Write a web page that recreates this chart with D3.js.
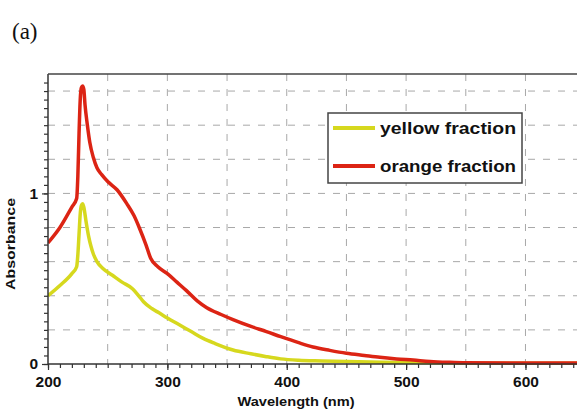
<!DOCTYPE html>
<html>
<head>
<meta charset="utf-8">
<script src="https://cdn.jsdelivr.net/npm/d3@7"></script>
<style>
  body { margin: 0; background: #fff; }
  svg { display: block; }
</style>
</head>
<body>
<div id="chart"></div>
<script>
// wavelengths (nm) and absorbance
var redWl  = [200, 210, 220, 224, 225, 226, 227, 228, 229, 230, 231, 233, 235, 238, 241, 245, 250, 258, 266, 272, 277, 282, 286, 292, 300, 308, 316, 325, 333, 345, 355, 370, 383, 395, 410, 422, 436, 450, 465, 478, 492, 506, 520, 535, 550, 600, 644];
var redAbs = [0.71, 0.80, 0.92, 0.97, 1.1, 1.35, 1.55, 1.62, 1.63, 1.61, 1.52, 1.40, 1.30, 1.21, 1.15, 1.11, 1.07, 1.02, 0.94, 0.87, 0.79, 0.70, 0.62, 0.57, 0.53, 0.48, 0.43, 0.37, 0.33, 0.29, 0.26, 0.22, 0.19, 0.16, 0.125, 0.10, 0.08, 0.063, 0.05, 0.039, 0.03, 0.023, 0.015, 0.01, 0.007, 0.006, 0.006];

var yelWl  = [200, 210, 220, 224, 225, 226, 227, 228, 229, 230, 232, 234, 236, 238, 241, 246, 254, 262, 271, 276, 280, 287, 293, 300, 310, 320, 330, 340, 355, 370, 383, 395, 410, 430, 450, 480, 520, 560, 644];
var yelAbs = [0.40, 0.46, 0.53, 0.57, 0.64, 0.76, 0.88, 0.93, 0.94, 0.92, 0.83, 0.75, 0.69, 0.645, 0.60, 0.56, 0.52, 0.48, 0.44, 0.40, 0.365, 0.325, 0.30, 0.27, 0.23, 0.19, 0.15, 0.12, 0.082, 0.06, 0.043, 0.03, 0.022, 0.018, 0.014, 0.01, 0.007, 0.005, 0.004];

var seriesNames  = ["yellow fraction", "orange fraction"];
var seriesColors = ["#d6d81e", "#dc2414"];

var xTickLabels = [200, 300, 400, 500, 600];
var yTickLabels = [0, 1];

(function() {

    var w = 577, h = 410;
    var pLeft = 48, pTop = 74, pRight = 578, pBottom = 364;

    var svg = d3.select("#chart").append("svg")
        .attr("width", w)
        .attr("height", h);

    var xScale = d3.scaleLinear().domain([200, 644]).range([pLeft, pRight]);
    var yScale = d3.scaleLinear().domain([0, 1.7]).range([pBottom, pTop]);

    // grid
    var grid = svg.append("g");
    grid.selectAll("line.vg")
        .data(d3.range(250, 644, 50))
        .enter().append("line")
        .attr("x1", function(d) { return xScale(d); })
        .attr("x2", function(d) { return xScale(d); })
        .attr("y1", pTop).attr("y2", pBottom)
        .style("stroke", "#a8a8a8")
        .style("stroke-dasharray", "7,8")
        .style("stroke-width", 1);

    grid.selectAll("line.hg")
        .data(d3.range(0.2, 1.65, 0.2))
        .enter().append("line")
        .attr("x1", pLeft).attr("x2", pRight)
        .attr("y1", function(d) { return yScale(d); })
        .attr("y2", function(d) { return yScale(d); })
        .style("stroke", "#a8a8a8")
        .style("stroke-dasharray", "7,8")
        .style("stroke-width", 1);

    // curves
    svg.append("clipPath").attr("id", "clip")
        .append("rect").attr("x", pLeft).attr("y", pTop)
        .attr("width", pRight - pLeft).attr("height", pBottom - pTop + 2);

    var line = d3.line()
        .x(function(d) { return xScale(d[0]); })
        .y(function(d) { return yScale(d[1]); })
        .curve(d3.curveMonotoneX);

    var curves = [d3.zip(yelWl, yelAbs), d3.zip(redWl, redAbs)];

    svg.append("g").attr("clip-path", "url(#clip)")
        .selectAll("path")
        .data(curves)
        .enter().append("path")
        .attr("d", line)
        .style("fill", "none")
        .style("stroke", function(d, i) { return seriesColors[i]; })
        .style("stroke-width", 3.5)
        .style("stroke-linejoin", "round");

    // axes
    var xAxisMinor = d3.axisBottom(xScale).tickValues(d3.range(200, 644, 10)).tickSize(4).tickFormat("");
    var xAxis = d3.axisBottom(xScale).tickValues(xTickLabels).tickSize(6).tickPadding(6).tickFormat(d3.format("d"));
    var yAxisMinor = d3.axisLeft(yScale).tickValues(d3.range(0, 1.7, 0.05)).tickSize(4).tickFormat("");
    var yAxis = d3.axisLeft(yScale).tickValues(yTickLabels).tickSize(6).tickPadding(4).tickFormat(d3.format("d"));

    function styleAxis(g) {
        g.select(".domain").remove();
        g.selectAll("line").style("stroke", "#333").style("stroke-width", 1.2);
        g.selectAll("text")
            .style("font-family", "'Liberation Sans', Arial, sans-serif")
            .style("font-weight", "bold")
            .style("font-size", "15.5px")
            .style("fill", "#111");
    }

    svg.append("g").attr("transform", "translate(0," + pBottom + ")").call(xAxisMinor).call(styleAxis);
    svg.append("g").attr("transform", "translate(0," + pBottom + ")").call(xAxis).call(styleAxis);
    svg.append("g").attr("transform", "translate(" + pLeft + ",0)").call(yAxisMinor).call(styleAxis);
    svg.append("g").attr("transform", "translate(" + pLeft + ",0)").call(yAxis).call(styleAxis);

    // frame lines
    svg.append("line").attr("x1", pLeft).attr("x2", pRight).attr("y1", pBottom).attr("y2", pBottom)
        .style("stroke", "#333").style("stroke-width", 1.5);
    svg.append("line").attr("x1", pLeft).attr("x2", pLeft).attr("y1", pTop).attr("y2", pBottom)
        .style("stroke", "#333").style("stroke-width", 1.5);
    svg.append("line").attr("x1", pLeft).attr("x2", pRight).attr("y1", pTop).attr("y2", pTop)
        .style("stroke", "#444").style("stroke-width", 1.5);

    // axis titles
    svg.append("text")
        .attr("x", 296).attr("y", 406)
        .attr("text-anchor", "middle")
        .attr("textLength", 117).attr("lengthAdjust", "spacingAndGlyphs")
        .style("font-family", "'Liberation Sans', Arial, sans-serif")
        .style("font-weight", "bold").style("font-size", "13.5px").style("fill", "#111")
        .text("Wavelength (nm)");

    svg.append("text")
        .attr("transform", "translate(15,244) rotate(-90)")
        .attr("text-anchor", "middle")
        .attr("textLength", 92).attr("lengthAdjust", "spacingAndGlyphs")
        .style("font-family", "'Liberation Sans', Arial, sans-serif")
        .style("font-weight", "bold").style("font-size", "13px").style("fill", "#111")
        .text("Absorbance");

    svg.append("text")
        .attr("x", 12).attr("y", 39)
        .style("font-family", "'Liberation Serif', 'Times New Roman', serif")
        .style("font-size", "23px").style("fill", "#111")
        .text("(a)");

    // legend
    var legend = svg.append("g");
    legend.append("rect")
        .attr("x", 328).attr("y", 113).attr("width", 194).attr("height", 70)
        .style("fill", "#fff").style("stroke", "#444").style("stroke-width", 1.5);

    var rows = legend.selectAll("g.row")
        .data(seriesNames)
        .enter().append("g")
        .attr("transform", function(d, i) { return "translate(0," + (128 + i * 38) + ")"; });

    rows.append("line")
        .attr("x1", 333).attr("x2", 375).attr("y1", 0).attr("y2", 0)
        .style("stroke", function(d, i) { return seriesColors[i]; })
        .style("stroke-width", 4);

    rows.append("text")
        .attr("x", 380).attr("y", 5.5)
        .attr("textLength", 136).attr("lengthAdjust", "spacingAndGlyphs")
        .style("font-family", "'Liberation Sans', Arial, sans-serif")
        .style("font-weight", "bold").style("font-size", "16.5px").style("fill", "#111")
        .text(function(d) { return d; });

})();
</script>
</body>
</html>
